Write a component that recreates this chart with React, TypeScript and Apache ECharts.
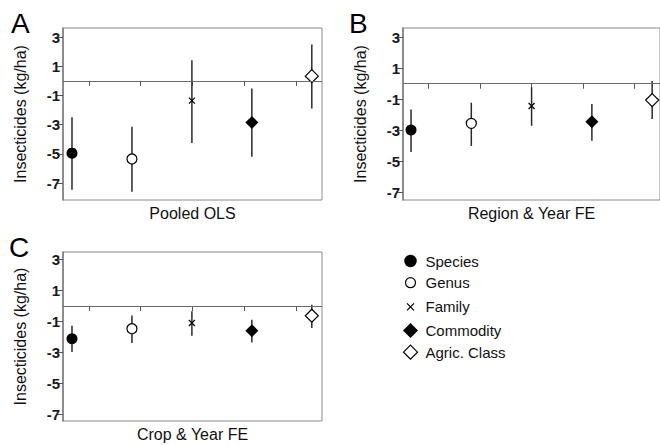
import React, { useEffect, useRef } from "react";
import * as echarts from "echarts";

// ---- data ----
const typeNames = ["Species", "Genus", "Family", "Commodity", "Agric. Class"];
const xTickCats = ["1", "2", "3", "4", "5"];
const yTickValues = [-7, -5, -3, -1, 1, 3];

const panelTitles = ["Pooled OLS", "Region & Year FE", "Crop & Year FE"];
const panelLetters = ["A", "B", "C"];

const estA = [-4.95, -5.35, -1.35, -2.85, 0.32];
const loA = [-7.45, -7.6, -4.25, -5.2, -1.9];
const hiA = [-2.5, -3.15, 1.41, -0.53, 2.49];

const estB = [-2.98, -2.55, -1.43, -2.44, -1.05];
const loB = [-4.38, -4.0, -2.7, -3.67, -2.27];
const hiB = [-1.65, -1.22, -0.23, -1.3, 0.18];

const estC = [-2.11, -1.46, -1.09, -1.59, -0.62];
const loC = [-2.97, -2.39, -1.92, -2.35, -1.42];
const hiC = [-1.27, -0.6, -0.34, -0.88, 0.09];

const yRangeA = [-8.16, 3.62];
const yRangeB = [-7.47, 3.58];
const yRangeC = [-7.43, 3.5];

const xRangeA = [0.85, 5.17];
const xRangeB = [0.867, 5.13];
const xRangeC = [0.85, 5.17];

// ---- layout / styles ----
const FONT = "Liberation Sans";
const gridPos = [
  { left: 63, top: 28, width: 259, height: 172 },
  { left: 403, top: 28, width: 257, height: 172 },
  { left: 63, top: 252, width: 259, height: 169 },
];
const letterPos = [
  [11, 23],
  [349, 23],
  [9, 247],
];

const XPATH = "path://M0,0L10,10M10,0L0,10";
const symbols = ["circle", "circle", XPATH, "diamond", "diamond"];
const symbolSizes = [11, 10, 6, 13, 13];
const itemStyles: any[] = [
  { color: "#000", borderWidth: 0, opacity: 1 },
  { color: "#fff", borderColor: "#000", borderWidth: 1.2, opacity: 1 },
  { color: "none", borderColor: "#000", borderWidth: 1.2, opacity: 1 },
  { color: "#000", borderWidth: 0, opacity: 1 },
  { color: "#fff", borderColor: "#000", borderWidth: 1.2, opacity: 1 },
];
const legendIcons = [
  "path://M-8,-8M8,8M-6.25,0A6.25,6.25,0,1,1,6.25,0A6.25,6.25,0,1,1,-6.25,0Z",
  "path://M-8,-8M8,8M-5,0A5,5,0,1,1,5,0A5,5,0,1,1,-5,0Z",
  "path://M-8,-8M8,8M-3.5,-3.5L3.5,3.5M3.5,-3.5L-3.5,3.5",
  "path://M-8,-8M8,8M0,-7.5L7.5,0L0,7.5L-7.5,0Z",
  "path://M-8,-8M8,8M0,-7L7,0L0,7L-7,0Z",
];

const tickLabelStyle = {
  fontFamily: FONT,
  fontSize: 15,
  fontWeight: "bold",
  color: "#1a1a1a",
};

export default function App() {
  const ref = useRef<HTMLDivElement>(null);

  useEffect(() => {
    if (!ref.current) return;
    const chart = echarts.init(ref.current, null, { renderer: "svg" });

    const panels = [
      { est: estA, lo: loA, hi: hiA, y: yRangeA, x: xRangeA },
      { est: estB, lo: loB, hi: hiB, y: yRangeB, x: xRangeB },
      { est: estC, lo: loC, hi: hiC, y: yRangeC, x: xRangeC },
    ];

    const grid: any[] = [];
    const xAxis: any[] = [];
    const yAxis: any[] = [];
    const series: any[] = [];

    panels.forEach((p, pi) => {
      grid.push({
        ...gridPos[pi],
        show: true,
        borderColor: "#8a8a8a",
        borderWidth: 1,
        containLabel: false,
      });
      xAxis.push({
        type: "category",
        gridIndex: pi,
        data: xTickCats,
        boundaryGap: true,
        position: "bottom",
        axisLine: { show: true, lineStyle: { color: "#8a8a8a", width: 1 } },
        axisTick: {
          show: true,
          alignWithLabel: true,
          interval: 0,
          length: 5,
          lineStyle: { color: "#555", width: 1 },
        },
        axisLabel: { show: false, interval: 0 },
        splitLine: { show: false },
        name: panelTitles[pi],
        nameLocation: "middle",
        nameGap: 5,
        nameTextStyle: { fontFamily: FONT, fontSize: 16, color: "#111" },
      });
      xAxis.push({
        type: "value",
        gridIndex: pi,
        show: false,
        min: p.x[0],
        max: p.x[1],
      });
      yAxis.push({
        type: "value",
        gridIndex: pi,
        min: p.y[0],
        max: p.y[1],
        axisLine: { show: true, lineStyle: { color: "#7a7a7a", width: 1.5 } },
        axisTick: {
          show: true,
          length: 6,
          customValues: yTickValues,
          lineStyle: { color: "#555", width: 1 },
        },
        axisLabel: {
          show: true,
          customValues: yTickValues,
          margin: 3,
          ...tickLabelStyle,
          formatter: (v: number) => "{t|" + String(Math.round(v)) + "}",
          rich: { t: { ...tickLabelStyle } },
        },
        splitLine: { show: false },
        name: "Insecticides (kg/ha)",
        nameLocation: "middle",
        nameRotate: 90,
        nameGap: 35,
        nameTextStyle: { fontFamily: FONT, fontSize: 16, color: "#111" },
      });

      // error bars
      series.push({
        type: "custom",
        name: "ci" + pi,
        xAxisIndex: pi * 2 + 1,
        yAxisIndex: pi,
        z: 2,
        silent: true,
        data: p.est.map((_, i) => [i + 1, p.lo[i], p.hi[i]]),
        renderItem: (params: any, api: any) => {
          const x = api.value(0);
          const a = api.coord([x, api.value(1)]);
          const b = api.coord([x, api.value(2)]);
          return {
            type: "line",
            shape: { x1: a[0], y1: a[1], x2: b[0], y2: b[1] },
            style: { stroke: "#2a2a2a", lineWidth: 1.5 },
          };
        },
      });

      typeNames.forEach((name, ti) => {
        const s: any = {
          type: "scatter",
          name,
          xAxisIndex: pi * 2 + 1,
          yAxisIndex: pi,
          z: 3,
          symbol: symbols[ti],
          symbolSize: symbolSizes[ti],
          itemStyle: itemStyles[ti],
          data: [[ti + 1, p.est[ti]]],
        };
        if (ti === 0) {
          s.markLine = {
            silent: true,
            symbol: ["none", "none"],
            label: { show: false },
            lineStyle: { color: "#6a6a6a", width: 1.2, type: "solid" },
            data: [{ yAxis: 0 }],
          };
        }
        series.push(s);
      });
    });

    const option: any = {
      animation: false,
      backgroundColor: "#fff",
      textStyle: { fontFamily: FONT },
      grid,
      xAxis,
      yAxis,
      series,
      legend: {
        orient: "vertical",
        left: 395,
        top: 248,
        itemWidth: 20,
        itemHeight: 16,
        itemGap: 5.1,
        align: "left",
        selectedMode: false,
        textStyle: { fontFamily: FONT, fontSize: 15, lineHeight: 16, color: "#111" },
        data: typeNames.map((name, ti) => ({
          name,
          icon: legendIcons[ti],
          itemStyle: itemStyles[ti],
        })),
      },
      graphic: panelLetters.map((t, i) => ({
        type: "text",
        left: letterPos[i][0],
        top: letterPos[i][1] - 14,
        style: {
          text: t,
          fontFamily: FONT,
          fontSize: 28,
          fill: "#000",
        },
      })),
    };

    chart.setOption(option);
    return () => chart.dispose();
  }, []);

  return (
    <div
      ref={ref}
      style={{ position: "absolute", left: 0, top: 0, width: 660, height: 445 }}
    />
  );
}
